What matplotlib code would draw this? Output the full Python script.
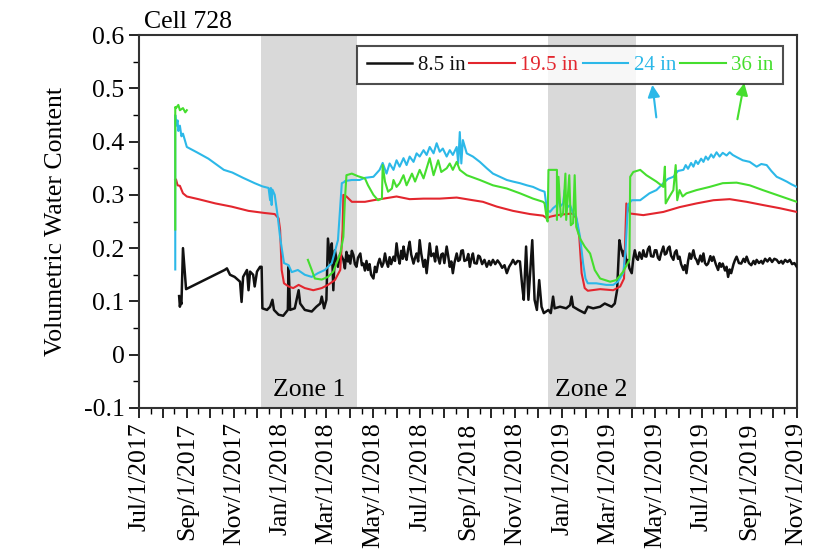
import numpy as np
import pandas as pd
import matplotlib
matplotlib.use('Agg')
import matplotlib.pyplot as plt
import matplotlib.dates as mdates
from matplotlib.ticker import MultipleLocator, FuncFormatter

plt.rcParams['font.family'] = ['Liberation Serif', 'DejaVu Serif']
plt.rcParams['axes.unicode_minus'] = False

#%% data (days after Jul/1/2017, volumetric water content)
start = pd.Timestamp('2017-07-01')

d_black = [52, 53, 54, 55, 57, 61, 111, 114, 118, 124, 131, 133, 135, 140, 142, 144, 148, 150, 153, 157,
           159, 160, 166, 170, 173, 175, 181, 187, 193, 194, 196, 202, 207, 209, 215, 224, 230, 235, 237, 240,
           243, 245, 248, 250, 252, 254, 258, 261,
           265, 267, 269, 271, 272, 274, 276, 278, 280, 282, 284, 287, 289, 291, 293, 295, 297, 299, 301, 304,
           306, 308, 310, 312, 315, 317, 319, 321, 323, 325, 327, 330, 332, 334, 336, 338, 340, 342, 343, 345,
           347, 349, 351, 353, 356, 358, 360, 362, 364, 366, 369, 371, 373, 375, 377, 379, 382, 384, 386, 388,
           390, 392, 394, 396, 399, 401, 403, 405, 407, 409, 412, 414, 416, 418, 420, 422, 425, 427, 429, 431,
           433, 435, 438, 440, 442, 445, 448, 451, 454, 456, 459, 462, 465, 468, 471, 474, 477, 480, 483, 485,
           488, 491, 494,
           497, 499, 502, 505, 508, 510, 513, 516, 519, 522, 525, 531, 534, 537, 539, 546, 554, 559, 561, 563,
           570, 578, 582, 589, 598, 604, 613, 617, 620,
           623, 625, 626, 628, 630, 632, 634, 636, 639, 641, 643, 645, 647, 649, 652, 654, 656, 658, 660, 662,
           664, 667, 669, 671, 673, 675, 677, 680, 682, 684, 686, 688, 690, 693, 695, 697, 699, 701, 703, 706,
           708, 710, 712, 714, 716, 719, 721, 723, 725, 728, 730, 732, 734, 736, 738, 741, 743, 745, 748, 751,
           753, 755, 757, 760, 762, 764, 766, 768, 771, 773, 775, 778, 781, 784, 786, 788, 791, 794, 797, 799,
           801, 804, 807, 809, 812, 815, 818, 821, 824, 827, 830, 833, 835, 838, 841, 844, 847, 850, 853]
v_black = [0.110, 0.090, 0.100, 0.095, 0.200, 0.123, 0.159, 0.162, 0.150, 0.146, 0.137, 0.099, 0.146, 0.159, 0.121, 0.156, 0.150, 0.128, 0.156, 0.165,
           0.165, 0.087, 0.084, 0.090, 0.103, 0.084, 0.075, 0.073, 0.084, 0.165, 0.084, 0.087, 0.121, 0.096, 0.084, 0.081, 0.090, 0.096, 0.109, 0.087,
           0.103, 0.218, 0.171, 0.209, 0.121, 0.196, 0.165, 0.190,
           0.178, 0.162, 0.193, 0.175, 0.186, 0.171, 0.195, 0.187, 0.170, 0.165, 0.182, 0.190, 0.168, 0.171, 0.158, 0.176, 0.159, 0.170, 0.150, 0.143,
           0.165, 0.155, 0.171, 0.180, 0.165, 0.172, 0.190, 0.174, 0.165, 0.183, 0.170, 0.184, 0.176, 0.209, 0.185, 0.171, 0.195, 0.180, 0.203, 0.186,
           0.178, 0.198, 0.212, 0.188, 0.171, 0.182, 0.190, 0.175, 0.215, 0.190, 0.165, 0.178, 0.153, 0.180, 0.209, 0.185, 0.190, 0.175, 0.203, 0.182,
           0.171, 0.188, 0.190, 0.172, 0.203, 0.185, 0.165, 0.175, 0.153, 0.172, 0.190, 0.176, 0.178, 0.195, 0.196, 0.176, 0.178, 0.189, 0.165, 0.180,
           0.190, 0.172, 0.171, 0.186, 0.184, 0.170, 0.178, 0.165, 0.176, 0.168, 0.178, 0.170, 0.177, 0.171, 0.163, 0.168, 0.153, 0.165, 0.172, 0.178,
           0.170, 0.176, 0.175,
           0.128, 0.103, 0.203, 0.103, 0.171, 0.215, 0.103, 0.084, 0.140, 0.090, 0.078, 0.084, 0.078, 0.109, 0.087, 0.090, 0.087, 0.093, 0.109, 0.090,
           0.084, 0.078, 0.090, 0.087, 0.090, 0.096, 0.090, 0.096, 0.121,
           0.215, 0.200, 0.196, 0.185, 0.196, 0.170, 0.178, 0.162, 0.153, 0.180, 0.196, 0.182, 0.178, 0.192, 0.180, 0.196, 0.185, 0.184, 0.198, 0.203,
           0.185, 0.184, 0.196, 0.196, 0.182, 0.178, 0.190, 0.203, 0.188, 0.190, 0.200, 0.203, 0.186, 0.178, 0.192, 0.196, 0.180, 0.184, 0.170, 0.159,
           0.168, 0.153, 0.175, 0.190, 0.180, 0.196, 0.182, 0.178, 0.170, 0.186, 0.175, 0.190, 0.172, 0.168, 0.171, 0.185, 0.176, 0.184, 0.170, 0.159,
           0.172, 0.165, 0.171, 0.158, 0.165, 0.146, 0.160, 0.153, 0.170, 0.178, 0.184, 0.172, 0.171, 0.180, 0.174, 0.184, 0.172, 0.168, 0.176, 0.170,
           0.178, 0.172, 0.176, 0.171, 0.180, 0.175, 0.181, 0.174, 0.180, 0.178, 0.172, 0.176, 0.171, 0.178, 0.174, 0.178, 0.170, 0.172, 0.165]

d_red = [47, 48, 50, 53, 57, 62, 77, 99, 120, 142, 163, 176, 181, 183, 185, 188, 194, 200, 207, 215,
         226, 237, 245, 254, 261, 264, 265, 269, 276, 293, 304, 317, 334, 351, 369, 390, 412, 433, 446, 464,
         485, 507, 524, 529, 533, 542, 554, 563, 567, 571, 574, 578, 582, 598, 615, 624, 629, 632, 637, 654,
         680, 701, 723, 745, 766, 788, 809, 831, 853]
v_red = [0.328, 0.329, 0.318, 0.317, 0.303, 0.297, 0.292, 0.284, 0.278, 0.270, 0.266, 0.264, 0.256, 0.234, 0.159, 0.134, 0.128, 0.125, 0.131, 0.125,
         0.121, 0.125, 0.131, 0.140, 0.159, 0.234, 0.300, 0.297, 0.287, 0.287, 0.290, 0.293, 0.297, 0.292, 0.293, 0.293, 0.295, 0.290, 0.287, 0.278,
         0.270, 0.264, 0.261, 0.256, 0.259, 0.262, 0.264, 0.265, 0.256, 0.221, 0.153, 0.125, 0.120, 0.123, 0.121, 0.128, 0.143, 0.284, 0.265, 0.262,
         0.268, 0.277, 0.284, 0.290, 0.292, 0.287, 0.281, 0.275, 0.268]

d_blue = [47, 47, 48, 50, 51, 53, 55, 57, 60, 62, 75, 90, 110, 121, 135, 150, 160, 168, 170, 171,
          172, 173, 176, 180, 183, 188, 194, 198, 206, 215, 224, 232, 241, 250, 258, 263, 266, 267, 276, 286,
          293, 304, 312, 316, 321, 325, 330, 334, 338, 343, 347, 351, 356, 360, 364, 369, 373, 377, 382, 386,
          390, 394, 399, 403, 407, 412, 414, 416, 418, 420, 425, 433, 442, 451, 459, 468, 477, 485, 494, 503,
          511, 520, 526, 529, 533, 537, 542, 544, 546, 550, 552, 554, 559, 563, 567, 572, 576, 579, 582, 593,
          606, 615, 621, 628, 631, 634, 639, 650, 662, 671, 680, 686, 693, 699, 706, 709, 712, 716, 719, 722,
          725, 729, 732, 735, 738, 742, 745, 749, 753, 757, 762, 766, 770, 775, 783, 792, 801, 807, 814, 820,
          827, 833, 840, 846, 853]
v_blue = [0.160, 0.450, 0.430, 0.440, 0.420, 0.430, 0.410, 0.415, 0.400, 0.390, 0.380, 0.368, 0.347, 0.342, 0.332, 0.322, 0.316, 0.313, 0.290, 0.313,
          0.281, 0.310, 0.300, 0.258, 0.220, 0.172, 0.168, 0.155, 0.159, 0.150, 0.146, 0.153, 0.159, 0.172, 0.215, 0.322, 0.324, 0.326, 0.328, 0.328,
          0.332, 0.334, 0.347, 0.360, 0.340, 0.359, 0.347, 0.365, 0.353, 0.369, 0.356, 0.372, 0.362, 0.378, 0.372, 0.384, 0.375, 0.390, 0.378, 0.397,
          0.381, 0.387, 0.372, 0.384, 0.375, 0.390, 0.359, 0.418, 0.359, 0.403, 0.378, 0.372, 0.362, 0.350, 0.340, 0.334, 0.328, 0.325, 0.322, 0.318,
          0.315, 0.309, 0.306, 0.272, 0.268, 0.275, 0.281, 0.297, 0.278, 0.284, 0.309, 0.275, 0.281, 0.265, 0.259, 0.221, 0.171, 0.143, 0.134, 0.134,
          0.131, 0.131, 0.137, 0.153, 0.196, 0.281, 0.290, 0.290, 0.303, 0.309, 0.322, 0.330, 0.334, 0.345, 0.347, 0.356, 0.349, 0.360, 0.353, 0.364,
          0.358, 0.368, 0.362, 0.372, 0.366, 0.376, 0.370, 0.380, 0.372, 0.379, 0.374, 0.380, 0.375, 0.371, 0.365, 0.362, 0.353, 0.358, 0.356, 0.345,
          0.334, 0.330, 0.325, 0.320, 0.315]

d_green = [47, 47, 48, 51, 53, 57, 60, 62, 63, 219, 224, 228, 237, 245, 252, 256, 261, 265, 267, 269,
           276, 284, 293, 297, 304, 310, 315, 316, 319, 323, 328, 330, 334, 338, 343, 347, 354, 358, 364, 369,
           377, 382, 388, 392, 399, 403, 407, 412, 416, 425, 442, 459, 477, 494, 511, 524, 526, 529, 530, 531,
           542, 542, 544, 547, 550, 553, 554, 558, 560, 563, 565, 567, 572, 578, 585, 591, 598, 611, 619, 628,
           636, 637, 641, 650, 658, 671, 680, 682, 683, 688, 693, 696, 698, 701, 705, 710, 723, 740, 757, 775,
           792, 809, 827, 853]
v_green = [0.235, 0.465, 0.463, 0.469, 0.459, 0.463, 0.455, 0.459, np.nan, 0.178, 0.159, 0.143, 0.141, 0.146, 0.156, 0.171, 0.190, 0.221, 0.290, 0.337,
           0.340, 0.335, 0.331, 0.318, 0.300, 0.290, 0.293, 0.356, 0.325, 0.306, 0.312, 0.328, 0.315, 0.322, 0.337, 0.318, 0.340, 0.325, 0.347, 0.331,
           0.369, 0.337, 0.365, 0.343, 0.350, 0.359, 0.347, 0.362, 0.347, 0.337, 0.328, 0.318, 0.312, 0.303, 0.293, 0.287, 0.284, 0.253, 0.250, 0.347,
           0.347, 0.253, 0.334, 0.259, 0.265, 0.340, 0.253, 0.337, 0.243, 0.247, 0.337, 0.240, 0.218, 0.203, 0.190, 0.159, 0.143, 0.137, 0.140, 0.156,
           0.178, 0.334, 0.343, 0.347, 0.337, 0.325, 0.315, 0.353, 0.284, 0.297, 0.309, 0.356, 0.290, 0.309, 0.297, 0.303, 0.309, 0.315, 0.322, 0.323,
           0.318, 0.309, 0.300, 0.287]

zones = [('Zone 1', '2017-12-06', '2018-04-10'), ('Zone 2', '2018-12-13', '2019-04-06')]

series = [('8.5 in', d_black, v_black, '#111111', 1.8),
          ('19.5 in', d_red, v_red, '#e3262e', 1.5),
          ('24 in', d_blue, v_blue, '#2cb8e8', 1.5),
          ('36 in', d_green, v_green, '#45de2e', 1.5)]

#%%
fig = plt.figure(figsize=(8.13, 5.49), dpi=100)
ax = fig.add_axes([0.171, 0.257, 0.809, 0.679])

for name, z0, z1 in zones:
    t0, t1 = pd.Timestamp(z0), pd.Timestamp(z1)
    ax.axvspan(t0, t1, color='#d9d9d9', lw=0, zorder=0)
    ax.text(t0 + (t1 - t0) / 2, -0.066, name, ha='center', va='center', fontsize=18.5)

for label, days, vals, col, lw in series:
    t = start + pd.to_timedelta(days, unit='D')
    ax.plot(t, vals, color=col, lw=lw, label=label, zorder=3)

ax.set_xlim(pd.Timestamp('2017-07-01'), pd.Timestamp('2019-11-01'))
ax.set_ylim(-0.1, 0.6)
ax.yaxis.set_major_locator(MultipleLocator(0.1))
ax.yaxis.set_minor_locator(MultipleLocator(0.05))
ax.yaxis.set_major_formatter(FuncFormatter(lambda v, p: '%g' % round(v, 2)))

ax.xaxis.set_major_locator(mdates.MonthLocator(bymonthday=1))
ax.xaxis.set_minor_locator(mdates.MonthLocator(bymonthday=16))
def fmt_date(x, pos):
    d = mdates.num2date(x)
    if d.month % 2 == 1:
        return '%s/%d/%d' % (d.strftime('%b'), d.day, d.year)
    return ''
ax.xaxis.set_major_formatter(FuncFormatter(fmt_date))
plt.setp(ax.get_xticklabels(), rotation=90)

ax.tick_params(which='major', direction='out', length=7, width=1.2, labelsize=18.5)
ax.tick_params(which='minor', direction='out', length=4, width=1.0)
for s in ax.spines.values():
    s.set_linewidth(1.5)
    s.set_color('#333333')

ax.set_ylabel('Volumetric Water Content', fontsize=18.5, labelpad=12)
ax.text(0.008, 1.005, 'Cell 728', transform=ax.transAxes, fontsize=18.5, ha='left', va='bottom')

leg = ax.legend(ncol=4, loc='upper right', bbox_to_anchor=(0.979, 0.9705), borderaxespad=0,
                fontsize=15, handlelength=2.2, handletextpad=0.25, columnspacing=0.2,
                fancybox=False, frameon=True, borderpad=0.45)
leg.get_frame().set_edgecolor('#222222')
leg.get_frame().set_linewidth(1.5)
for txt, s in zip(leg.get_texts(), series):
    txt.set_color(s[3])

ax.annotate('', xy=(0.780, 0.874), xytext=(0.787, 0.772), xycoords='axes fraction',
            arrowprops=dict(arrowstyle='-|>', color='#2cb8e8', lw=1.5, mutation_scale=18))
ax.annotate('', xy=(0.921, 0.879), xytext=(0.909, 0.767), xycoords='axes fraction',
            arrowprops=dict(arrowstyle='-|>', color='#45de2e', lw=1.5, mutation_scale=18))

fig.savefig('out.png', dpi=100)
